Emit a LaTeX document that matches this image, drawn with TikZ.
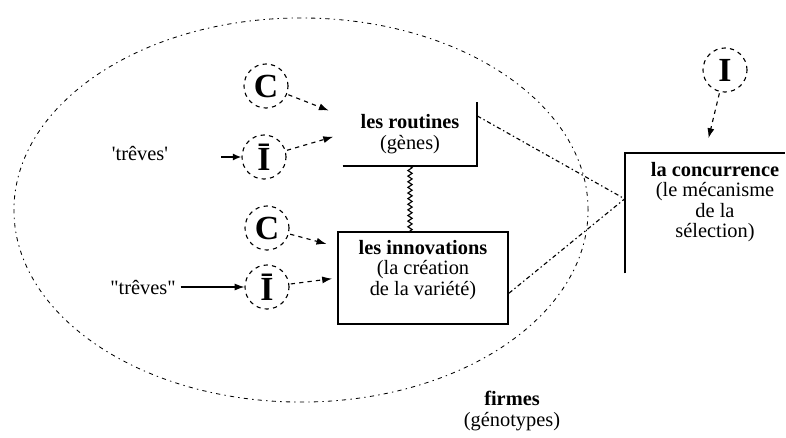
\documentclass[tikz,border=0pt]{standalone}
\usepackage{fontspec}
\setmainfont{Liberation Serif}
\usetikzlibrary{decorations.pathmorphing,arrows.meta}

\begin{document}
\begin{tikzpicture}[x=0.025cm,y=-0.025cm,
  every node/.style={font=\fontsize{14.5}{14.5}\selectfont},
  circ/.style={draw,circle,dashed,thick,minimum size=1.1cm,inner sep=0pt,
    font=\fontsize{24}{24}\selectfont\bfseries},
  dasharrow/.style={dashed,thick,-{Latex[length=7pt,width=5pt]},shorten <=1pt},
  dashdot/.style={thick,dash pattern=on 3pt off 2pt on 1pt off 2pt},
  frame/.style={line width=1.4pt}]
\useasboundingbox (0,0) rectangle (786,437);

% les firmes
\draw[semithick,dash pattern=on 3pt off 3pt on 1pt off 3pt] (301,210) ellipse [x radius=7.175cm, y radius=4.8cm];
\node (firmes) at (512,411) [align=center] {\textbf{firmes}\\(génotypes)};

% routines
\node (routines) at (410,134) [minimum width=3.35cm,minimum height=1.6cm,align=center] {\textbf{les routines}\\(gènes)};
\draw[frame] (routines.south west) -- (routines.south east) -- (routines.north east);

% innovations
\node (innov) at (423,278) [draw,frame,minimum width=4.25cm,minimum height=2.3cm] {};
\node (innovtext) at (423,270) [align=center] {\textbf{les innovations}\\(la création\\de la variété)};

% concurrence
\node (concur) at (705,213) [minimum width=4cm,minimum height=3cm] {};
\node (concurtext) at (715,202) [align=center] {\textbf{la concurrence}\\(le mécanisme\\de la\\sélection)};
\draw[frame] (concur.south west) -- (concur.north west) -- (concur.north east);

% C et I
\node (c1) at (266,86) [circ] {C};
\node (ib1) at (264,157) [circ] {Ī};
\node (c2) at (267,228) [circ] {C};
\node (ib2) at (267,287) [circ] {Ī};
\node (itop) at (725,70) [circ] {I};

\node (treves1) at (140,153) {\textquotesingle trêves\textquotesingle};
\node (treves2) at (143,287) {\textquotedbl trêves\textquotedbl};
\coordinate (stub) at (221,157);

\draw[dasharrow,shorten >=0.375cm] (c1) -- (routines.165);
\draw[dasharrow,shorten >=0.25cm] (ib1) -- (routines.west);
\draw[dasharrow,shorten >=0.275cm] (c2) -- (innov.160);
\draw[dasharrow,shorten >=0.125cm] (ib2) -- (innov.west);
\draw[dasharrow,shorten >=0.375cm] (itop) -- (concur.north);

\draw[line width=1.6pt,-{Latex[length=6pt,width=5pt]}] (stub) -- (ib1);
\draw[thick,-{Latex[length=7pt,width=5pt]}] (treves2) -- (ib2);

\draw[thick,decorate,decoration={zigzag,segment length=4pt,amplitude=1.5pt}]
  (routines.south) -- (routines.south |- innov.north);

\draw[dashdot] (routines.15) -- (concur.170);
\draw[dashdot] (innov.-10) -- (concur.170);

\end{tikzpicture}
\end{document}
